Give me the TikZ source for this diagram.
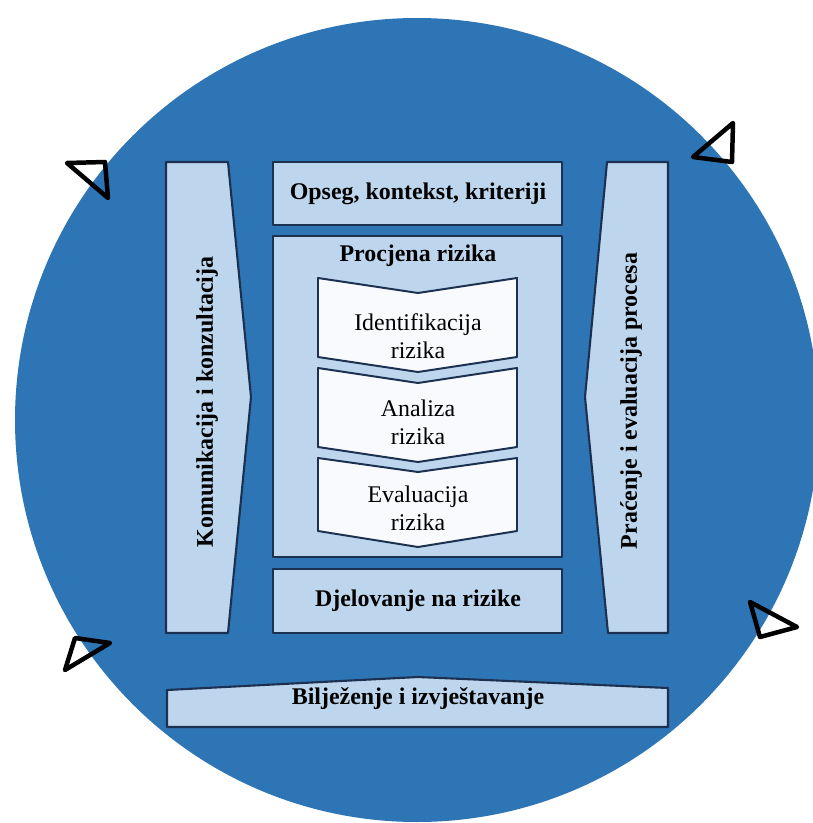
\documentclass[tikz,border=0pt]{standalone}
\usepackage{fontspec}
\setmainfont{Liberation Serif}
\usepackage{tikz}

\definecolor{ringblue}{RGB}{46,117,182}
\definecolor{panelblue}{RGB}{189,214,237}
\definecolor{stagewhite}{RGB}{248,250,253}
\definecolor{edgenavy}{RGB}{28,48,80}

\begin{document}
\begin{tikzpicture}[x=0.025cm, y=-0.025cm,
        panel/.style={fill=panelblue, draw=edgenavy, line width=1.5pt, line join=round},
        stage/.style={fill=stagewhite, draw=edgenavy, line width=1.4pt, line join=round},
        tip/.style={draw=black, line width=3.2pt, line join=round},
        lbl/.style={inner sep=0pt, font=\bfseries\fontsize{17}{20}\selectfont},
        txt/.style={inner sep=0pt, align=center, font=\fontsize{17}{20}\selectfont}]
        \useasboundingbox (0,0) rectangle (813,823);
        \fill[white] (0,0) rectangle (813,823);

        % ring and its clockwise heads
        \fill[ringblue] (417,420) circle[radius=402];
        \draw[tip] (67,163) -- (105,162) -- (108,198) -- cycle;
        \draw[tip] (693,157) -- (733,123) -- (732,162) -- cycle;
        \draw[tip] (750,602) -- (797,627) -- (760,637) -- cycle;
        \draw[tip] (75,638) -- (110,643) -- (65,670) -- cycle;

        % side columns
        \draw[panel] (166,162) -- (228,162) -- (251,397) -- (228,633) -- (166,633) -- cycle;
        \draw[panel] (607,162) -- (668,162) -- (668,633) -- (608,633) -- (585,397) -- cycle;

        % middle column
        \draw[panel] (273,162) rectangle (562,225);
        \draw[panel] (273,236) rectangle (562,557);
        \draw[panel] (273,569) rectangle (562,633);

        \draw[stage] (318,278) -- (418,293) -- (517,278) -- (517,357) -- (418,372) -- (318,357) -- cycle;
        \draw[stage] (318,368) -- (418,383) -- (517,368) -- (517,447) -- (418,462) -- (318,447) -- cycle;
        \draw[stage] (318,458) -- (418,472) -- (517,458) -- (517,531) -- (418,547) -- (318,531) -- cycle;

        % bottom bar
        \draw[panel] (167,690) -- (418,677) -- (668,688) -- (668,727) -- (167,727) -- cycle;

        \node[lbl] (opseg) at (418,194) {Opseg, kontekst, kriteriji};
        \node[lbl] (procjena) at (418,256) {Procjena rizika};
        \node[txt] (identifikacija) at (418,336) {Identifikacija\\rizika};
        \node[txt] (analiza) at (418,422) {Analiza\\rizika};
        \node[txt] (evaluacija) at (418,508) {Evaluacija\\rizika};
        \node[lbl] (djelovanje) at (418,601) {Djelovanje na rizike};
        \node[lbl, rotate=90] (komunikacija) at (207,402) {Komunikacija i konzultacija};
        \node[lbl, rotate=90] (pracenje) at (631,401) {Praćenje i evaluacija procesa};
        \node[lbl] (biljezenje) at (418,699) {Bilježenje i izvještavanje};
    \end{tikzpicture}
\end{document}
